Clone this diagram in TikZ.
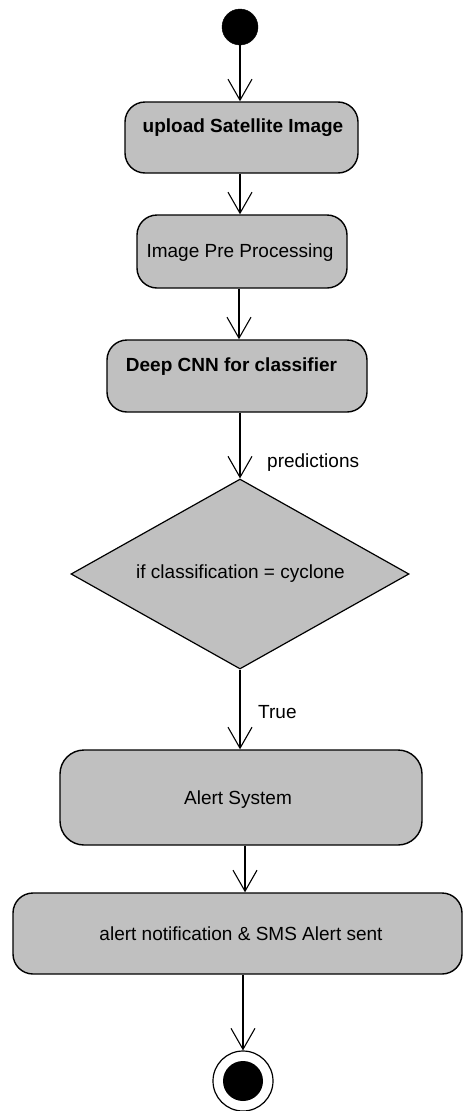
\documentclass[tikz,border=0pt]{standalone}
\usepackage{fontspec}
\setmainfont{Liberation Sans}
\usetikzlibrary{arrows.meta,shapes.geometric}
\definecolor{boxgray}{RGB}{192,192,192}
\tikzset{
  actbox/.style={draw=black, line width=1.4pt, fill=boxgray, rounded corners=20pt, inner sep=0pt},
  lbl/.style={inner sep=0pt, font=\fontsize{19}{23}\selectfont},
  blbl/.style={inner sep=0pt, font=\fontsize{19}{23}\selectfont\bfseries},
  flow/.style={line width=1.1pt, -{Straight Barb[length=21pt,width=24pt,line width=1.1pt]}},
}
\begin{document}
\begin{tikzpicture}[x=1pt,y=-1pt]
\useasboundingbox (0,0) rectangle (464,1111);
% start
\node (start) [circle, fill=black, draw=black, minimum size=36pt, inner sep=0pt] at (240,27) {};
% boxes
\node (b1) [actbox, minimum width=233pt, minimum height=71pt] at (241.5,137.5) {};
\node (t1) [blbl] at (243,128) {upload Satellite Image};
\node (b2) [actbox, minimum width=210pt, minimum height=73pt] at (242,251.5) {};
\node (t2) [lbl] at (240,253) {Image Pre Processing};
\node (b3) [actbox, minimum width=260pt, minimum height=72pt] at (237,376) {};
\node (t3) [blbl] at (231.5,367) {Deep CNN for classifier};
% decision
\node (dec) [diamond, draw=black, line width=1.2pt, fill=boxgray, minimum width=338pt, minimum height=190pt, inner sep=0pt, shape aspect=1.779] at (240,574) {};
\node (td) [lbl] at (240.5,574) {if classification = cyclone};
\node (pred) [lbl, anchor=west] at (267,463) {predictions};
\node (true) [lbl, anchor=west] at (258,712) {True};
% lower boxes
\node (b4) [actbox, minimum width=362pt, minimum height=95pt, rounded corners=24pt] at (241,797.5) {};
\node (t4) [lbl] at (238,800) {Alert System};
\node (b5) [actbox, minimum width=449pt, minimum height=81pt] at (237.5,933.5) {};
\node (t5) [lbl] at (241,934) {alert notification \& SMS Alert sent};
% end
\node (end) [circle, draw=black, line width=1.2pt, fill=white, minimum size=60pt, inner sep=0pt] at (243,1081) {};
\node (endin) [circle, fill=black, minimum size=40pt, inner sep=0pt] at (243,1081) {};
% flows
\draw[flow] (start.south) -- (start.south |- b1.north);
\draw[flow] ([xshift=-1.5pt]b1.south) -- ([xshift=-1.5pt]b1.south |- b2.north);
\draw[flow] ([xshift=-3pt]b2.south) -- ([xshift=-3pt]b2.south |- b3.north);
\draw[flow] (b3.south -| dec.north) -- (dec.north);
\draw[flow] (dec.south) -- (dec.south |- b4.north);
\draw[flow] ([xshift=4pt]b4.south) -- ([xshift=4pt]b4.south |- b5.north);
\draw[flow] (b5.south -| end.north) -- (end.north);
\end{tikzpicture}
\end{document}
